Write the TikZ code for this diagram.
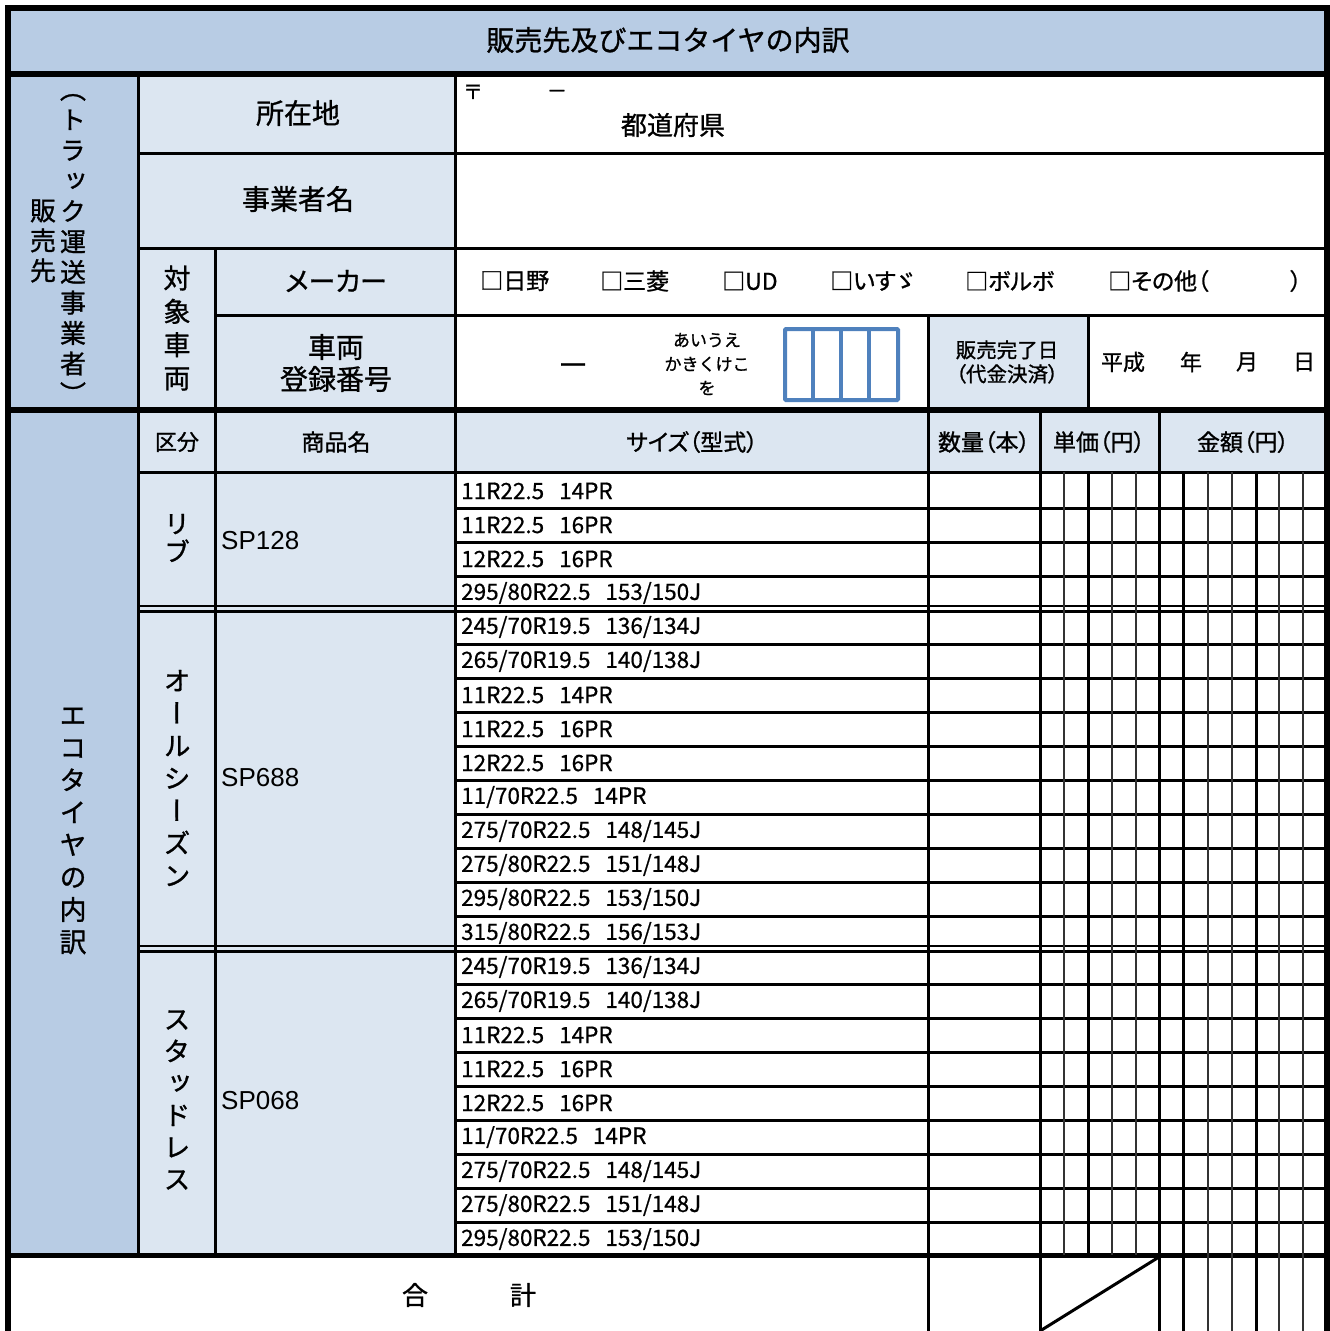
\documentclass[tikz,border=0pt]{standalone}
\usepackage{fontspec}
\setmainfont[FakeBold=1]{Noto Sans CJK JP}
\newfontfamily\jpp[RawFeature=+palt,FakeBold=1]{Noto Sans CJK JP}
\newfontfamily\vjp[RawFeature=+vert,FakeBold=1]{Noto Sans CJK JP}
\newfontfamily\arialfont{Liberation Sans}
\newfontfamily\sizefont[FakeBold=0.6]{Noto Sans CJK JP}
\newcommand{\jfs}[2]{\fontsize{#1}{#2}\selectfont}
\definecolor{hdrblue}{HTML}{B8CCE4}
\definecolor{cellblue}{HTML}{DCE6F1}
\definecolor{boxblue}{HTML}{4F81BD}

\begin{document}
\begin{tikzpicture}[x=1pt,y=-1pt,
  lbl/.style={inner sep=0pt,font=\jfs{22}{26}},
  hdr/.style={inner sep=0pt,font=\jpp\jfs{23}{26}},
  vlbl/.style={inner sep=0pt,align=center},
  sz/.style={anchor=west,inner sep=0pt,font=\sizefont\jfs{22.5}{24}},
  prod/.style={anchor=west,inner sep=0pt,font=\arialfont\jfs{26}{30}},
  mk/.style={anchor=west,inner sep=0pt,font=\jpp\jfs{23}{26}},
  thk/.style={line width=6pt},
  tln/.style={line width=3pt},
  gln/.style={line width=1.5pt,black!80}]
\useasboundingbox (0,0) rectangle (1330,1331);

% fills
\fill[hdrblue] (8,8) rectangle (1327,74);
\fill[hdrblue] (8,74) rectangle (138,1255);
\fill[cellblue] (138,74) rectangle (455,410);
\fill[cellblue] (928,315) rectangle (1088,410);
\fill[cellblue] (138,410) rectangle (1327,472);
\fill[cellblue] (138,472) rectangle (455,1255);

% outer frame and thick rules
\draw[thk] (8,1331) -- (8,8) -- (1327,8) -- (1327,1331);
\draw[thk] (8,74) -- (1327,74);
\draw[thk] (8,410) -- (1327,410);
\draw[line width=5pt] (8,1255) -- (1327,1255);

% upper block rules
\draw[tln] (138,153) -- (1327,153);
\draw[tln] (138,248) -- (1327,248);
\draw[tln] (215,315) -- (1327,315);
\draw[tln] (138,472) -- (1327,472);
\draw[tln] (138,74) -- (138,1255);
\draw[tln] (215,248) -- (215,1255);
\draw[tln] (455,74) -- (455,1255);
\draw[tln] (928,315) -- (928,1331);
\draw[tln] (1088,315) -- (1088,410);
\draw[tln] (1040,410) -- (1040,1331);
\draw[tln] (1159,410) -- (1159,1331);

% row rules
\draw[tln] (455,508) -- (1327,508) (455,542) -- (1327,542) (455,576) -- (1327,576)
  (455,644) -- (1327,644) (455,678) -- (1327,678) (455,712) -- (1327,712)
  (455,746) -- (1327,746) (455,780) -- (1327,780) (455,814) -- (1327,814)
  (455,848) -- (1327,848) (455,882) -- (1327,882) (455,916) -- (1327,916)
  (455,984) -- (1327,984) (455,1018) -- (1327,1018) (455,1052) -- (1327,1052)
  (455,1086) -- (1327,1086) (455,1120) -- (1327,1120) (455,1154) -- (1327,1154)
  (455,1188) -- (1327,1188) (455,1222) -- (1327,1222);
% double rules between groups
\draw[line width=2pt] (138,606) -- (1327,606);
\draw[tln] (138,611) -- (1327,611);
\draw[line width=2pt] (138,946) -- (1327,946);
\draw[tln] (138,951) -- (1327,951);

% money columns
\draw[tln] (1088,472) -- (1088,1255);
\draw[tln] (1183,472) -- (1183,1331);
\draw[tln] (1256,472) -- (1256,1331);
\draw[gln] (1064,472) -- (1064,1255) (1112,472) -- (1112,1255) (1136,472) -- (1136,1255);
\draw[gln] (1208,472) -- (1208,1331) (1232,472) -- (1232,1331)
  (1279,472) -- (1279,1331) (1303,472) -- (1303,1331);
\draw[tln] (1040,1331) -- (1159,1257);

% plate boxes
\draw[boxblue,line width=4pt,rounded corners=1pt] (785,329) rectangle (898,400);
\draw[boxblue,line width=4pt] (813,329) -- (813,400) (841,329) -- (841,400) (869,329) -- (869,400);

% texts
\node[lbl,font=\jfs{28}{32}] (title) at (668,40) {販売先及びエコタイヤの内訳};
\node[vlbl,font=\vjp\jfs{26}{30}] (hanbai) at (43,241) {販\\売\\先};
\node[vlbl,font=\vjp\jfs{26}{30.5}] (truck) at (73,249) {（\\ト\\ラ\\ッ\\ク\\運\\送\\事\\業\\者\\）};
\node[vlbl,font=\vjp\jfs{27}{32.4}] (eco) at (73,831) {エ\\コ\\タ\\イ\\ヤ\\の\\内\\訳};

\node[lbl,font=\jfs{28}{32}] (addr) at (298,113) {所在地};
\node[lbl,font=\jfs{28}{32}] (corp) at (298,199) {事業者名};
\node[vlbl,font=\vjp\jfs{27}{33.3}] (veh) at (177,328) {対\\象\\車\\両};
\node[lbl,font=\jpp\jfs{27}{32}] (maker) at (336,281) {メーカー};
\node[lbl,align=center,font=\jfs{28}{32}] (regno) at (336,363) {車両\\登録番号};

\node[lbl,font=\jfs{20}{24}] (zip) at (473,92) {〒};
\node[lbl,font=\jfs{20}{24}] (zipdash) at (557,94) {－};
\node[lbl,font=\jfs{26}{30}] (pref) at (673,125) {都道府県};

\node[mk] (hino) at (480,281) {□日野};
\node[mk] (mitsu) at (600,281) {□三菱};
\node[mk] (ud) at (722,281) {□UD};
\node[mk] (isuzu) at (830,281) {□いすゞ};
\node[mk] (volvo) at (965,281) {□ボルボ};
\node[mk] (other) at (1108,281) {□その他（};
\node[lbl,font=\jpp\jfs{23}{26}] (otherend) at (1296,281) {）};

\node[lbl,font=\jfs{26}{30}] (dash) at (573,369) {一};
\node[lbl,align=center,font=\jfs{17}{24}] (kana) at (707,364) {あいうえ\\かきくけこ\\を};
\node[lbl,align=center,font=\jpp\jfs{20.5}{24}] (sold) at (1007,362) {販売完了日\\（代金決済）};
\node[lbl] (heisei) at (1123,362) {平成};
\node[lbl] (year) at (1191,362) {年};
\node[lbl] (month) at (1247,362) {月};
\node[lbl] (day) at (1304,362) {日};

\node[lbl] (kubun) at (177,442) {区分};
\node[lbl,font=\jfs{23}{26}] (pname) at (336,442) {商品名};
\node[hdr] (size) at (692,442) {サイズ（型式）};
\node[hdr] (qty) at (984,442) {数量（本）};
\node[hdr] (unit) at (1099,442) {単価（円）};
\node[hdr] (amount) at (1243,442) {金額（円）};

\node[vlbl,font=\vjp\jfs{26}{28}] (rib) at (177,538) {リ\\ブ};
\node[vlbl,font=\vjp\jfs{27}{32.5}] (allseason) at (177,778) {オ\\ー\\ル\\シ\\ー\\ズ\\ン};
\node[vlbl,font=\vjp\jfs{27}{32}] (studless) at (177,1100) {ス\\タ\\ッ\\ド\\レ\\ス};
\node[prod] (sp128) at (221,541) {SP128};
\node[prod] (sp688) at (221,778) {SP688};
\node[prod] (sp068) at (221,1101) {SP068};

\node[sz] (s1) at (461,491) {11R22.5\hspace{15pt}14PR};
\node[sz] (s2) at (461,525) {11R22.5\hspace{15pt}16PR};
\node[sz] (s3) at (461,559) {12R22.5\hspace{15pt}16PR};
\node[sz] (s4) at (461,593) {295/80R22.5\hspace{15pt}153/150J};
\node[sz] (s5) at (461,627) {245/70R19.5\hspace{15pt}136/134J};
\node[sz] (s6) at (461,661) {265/70R19.5\hspace{15pt}140/138J};
\node[sz] (s7) at (461,695) {11R22.5\hspace{15pt}14PR};
\node[sz] (s8) at (461,729) {11R22.5\hspace{15pt}16PR};
\node[sz] (s9) at (461,763) {12R22.5\hspace{15pt}16PR};
\node[sz] (s10) at (461,797) {11/70R22.5\hspace{15pt}14PR};
\node[sz] (s11) at (461,831) {275/70R22.5\hspace{15pt}148/145J};
\node[sz] (s12) at (461,865) {275/80R22.5\hspace{15pt}151/148J};
\node[sz] (s13) at (461,899) {295/80R22.5\hspace{15pt}153/150J};
\node[sz] (s14) at (461,933) {315/80R22.5\hspace{15pt}156/153J};
\node[sz] (s15) at (461,967) {245/70R19.5\hspace{15pt}136/134J};
\node[sz] (s16) at (461,1001) {265/70R19.5\hspace{15pt}140/138J};
\node[sz] (s17) at (461,1035) {11R22.5\hspace{15pt}14PR};
\node[sz] (s18) at (461,1069) {11R22.5\hspace{15pt}16PR};
\node[sz] (s19) at (461,1103) {12R22.5\hspace{15pt}16PR};
\node[sz] (s20) at (461,1137) {11/70R22.5\hspace{15pt}14PR};
\node[sz] (s21) at (461,1171) {275/70R22.5\hspace{15pt}148/145J};
\node[sz] (s22) at (461,1205) {275/80R22.5\hspace{15pt}151/148J};
\node[sz] (s23) at (461,1239) {295/80R22.5\hspace{15pt}153/150J};

\node[lbl,font=\jfs{26}{30}] (tot1) at (415,1295) {合};
\node[lbl,font=\jfs{26}{30}] (tot2) at (523,1295) {計};
\end{tikzpicture}
\end{document}
